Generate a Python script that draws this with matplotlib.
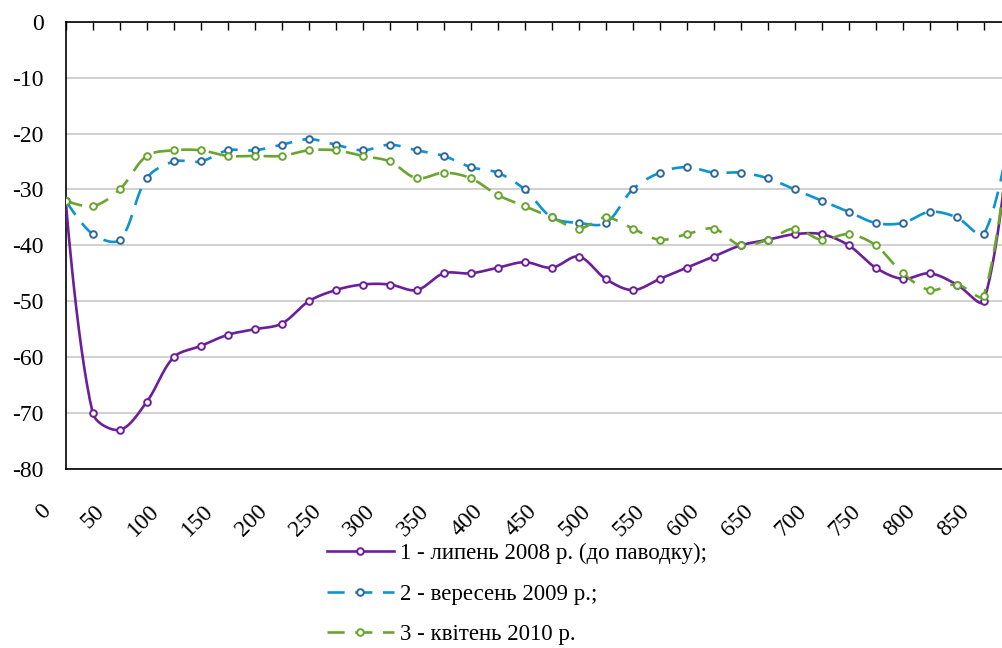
import matplotlib
matplotlib.use("Agg")
import matplotlib.pyplot as plt
import matplotlib.transforms as mtransforms
import numpy as np

plt.rcParams["font.family"] = ["Liberation Serif", "DejaVu Serif"]

distance = np.arange(0, 876, 25)
level_2008 = [-32, -70, -73, -68, -60, -58, -56, -55, -54, -50, -48, -47, -47, -48, -45, -45, -44, -43,
              -44, -42, -46, -48, -46, -44, -42, -40, -39, -38, -38, -40, -44, -46, -45, -47, -50, -18]
level_2009 = [-32, -38, -39, -28, -25, -25, -23, -23, -22, -21, -22, -23, -22, -23, -24, -26, -27, -30,
              -35, -36, -36, -30, -27, -26, -27, -27, -28, -30, -32, -34, -36, -36, -34, -35, -38, -19]
level_2010 = [-32, -33, -30, -24, -23, -23, -24, -24, -24, -23, -23, -24, -25, -28, -27, -28, -31, -33,
              -35, -37, -35, -37, -39, -38, -37, -40, -39, -37, -39, -38, -40, -45, -48, -47, -49, -18]
labels = ["1 - липень 2008 р. (до паводку);", "2 - вересень 2009 р.;", "3 - квітень 2010 р."]
yticks = list(range(0, -81, -10))


def smooth(x, y, sx=1.08, sy=5.61, n=16):
    # Excel-like smoothed line, chord-length weighted Bezier (done in pixel-ish space)
    p = np.column_stack([np.asarray(x) * sx, np.asarray(y) * sy]).astype(float)
    m = len(p)
    d = np.linalg.norm(np.diff(p, axis=0), axis=1)
    c_out = p.copy()
    c_in = p.copy()
    for i in range(1, m - 1):
        T = p[i + 1] - p[i - 1]
        tot = d[i - 1] + d[i]
        c_out[i] = p[i] + T * d[i] / tot / 3
        c_in[i] = p[i] - T * d[i - 1] / tot / 3
    t = np.linspace(0, 1, n)[:, None]
    out = []
    for i in range(m - 1):
        seg = ((1 - t) ** 3 * p[i] + 3 * (1 - t) ** 2 * t * c_out[i]
               + 3 * (1 - t) * t ** 2 * c_in[i + 1] + t ** 3 * p[i + 1])
        out.append(seg if i == 0 else seg[1:])
    s = np.vstack(out)
    return s[:, 0] / sx, s[:, 1] / sy


fig = plt.figure(figsize=(10.02, 6.48), dpi=100)
ax = fig.add_axes([0.0656, 0.2762, 0.9431, 0.6903])

styles = [
    dict(color="#6B1F9A", mec="#6B1F9A", ls="-"),
    dict(color="#0A94D3", mec="#2F6898", ls=(0, (6.5, 4))),
    dict(color="#6AA52F", mec="#6AA52F", ls=(0, (6.5, 4))),
]
series = [level_2008, level_2009, level_2010]

handles = []
for vals, st, lab in zip(series, styles, labels):
    sx, sy = smooth(distance, vals)
    ax.plot(sx, sy, color=st["color"], ls=st["ls"], lw=1.9, zorder=3)
    ax.plot(distance, vals, ls="none", marker="o", ms=4.8, mfc="white",
            mec=st["mec"], mew=1.4, zorder=4)
    h, = ax.plot([], [], color=st["color"], ls=st["ls"], lw=1.9, marker="o", ms=4.8,
                 mfc="white", mec=st["mec"], mew=1.4)
    handles.append(h)

ax.set_xlim(0, 875)
ax.set_ylim(-80, 0)
ax.set_yticks(yticks)
ax.set_yticklabels([str(v) for v in yticks], fontsize=17)
ax.tick_params(axis="y", length=0, pad=16)
ax.yaxis.grid(True, color="#C4C4C4", lw=1.1)
ax.set_axisbelow(True)

# category ticks on the zero line (top), labels at the bottom
ax.set_xticks(distance)
ax.tick_params(axis="x", bottom=False, top=True, direction="in", length=6, width=1,
               labelbottom=False, labeltop=False)
lab_tr = ax.get_xaxis_transform() + mtransforms.ScaledTranslation(-0.18, -0.39, fig.dpi_scale_trans)
for d in distance:
    if d % 50 == 0:
        ax.text(d, 0, str(d), transform=lab_tr, fontsize=17, rotation=45,
                ha="right", va="center", rotation_mode="anchor", clip_on=False)

for side in ["left", "bottom", "top"]:
    ax.spines[side].set_color("black")
    ax.spines[side].set_linewidth(1.2)
ax.spines["right"].set_visible(False)

fig.legend(handles, labels, loc="upper left", bbox_to_anchor=(0.326, 0.162),
           frameon=False, fontsize=16.5, handlelength=2.95, handletextpad=0.25,
           labelspacing=0.85, borderpad=0, borderaxespad=0)

fig.savefig("out.png", dpi=100)
